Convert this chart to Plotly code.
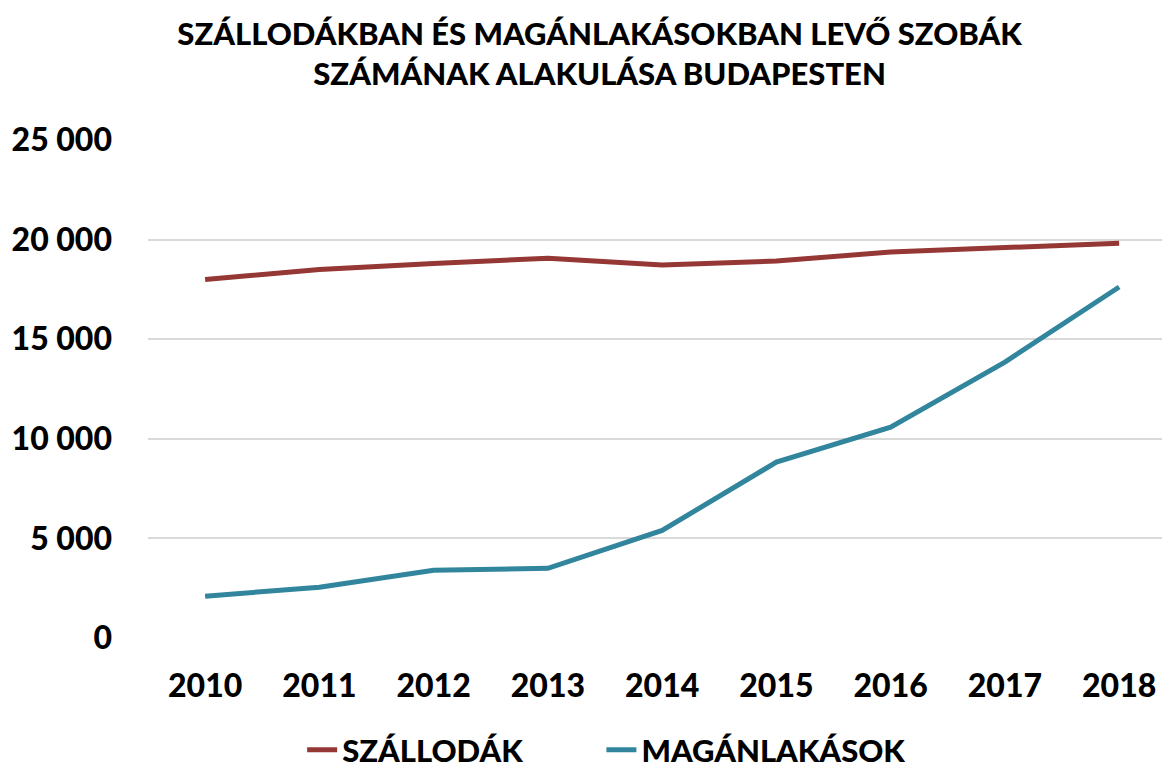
import plotly.graph_objects as go

years = ["2010", "2011", "2012", "2013", "2014", "2015", "2016", "2017", "2018"]
szallodak = [18000, 18500, 18800, 19070, 18730, 18920, 19380, 19580, 19820]
maganlakasok = [2100, 2550, 3400, 3500, 5400, 8830, 10580, 13850, 17620]
y_ticks = [0, 5000, 10000, 15000, 20000, 25000]
y_labels = ["0", "5 000", "10 000", "15 000", "20 000", "25 000"]

FONT = "Lato"
PAD = "&nbsp;" * 10  # extra gap between the two legend entries

fig = go.Figure()
fig.add_trace(go.Scatter(
    x=years, y=szallodak, mode="lines", name="SZÁLLODÁK" + PAD,
    line=dict(color="#953735", width=5),
))
fig.add_trace(go.Scatter(
    x=years, y=maganlakasok, mode="lines", name="MAGÁNLAKÁSOK",
    line=dict(color="#31859C", width=5),
))

fig.update_layout(
    width=1162, height=769,
    paper_bgcolor="white", plot_bgcolor="white",
    margin=dict(l=148, r=0, t=140, b=131, autoexpand=False),
    font=dict(family=FONT, color="black", weight=900),
    title=dict(
        text="SZÁLLODÁKBAN ÉS MAGÁNLAKÁSOKBAN LEVŐ SZOBÁK<br>SZÁMÁNAK ALAKULÁSA BUDAPESTEN",
        x=0.516, xanchor="center", y=0.9415, yanchor="top",
        font=dict(size=31, family=FONT, weight=900),
    ),
    xaxis=dict(
        type="category", range=[-0.5, 8.375],
        showgrid=False, showline=False, ticks="",
        tickfont=dict(size=32, family=FONT, weight=900), ticklabelstandoff=26,
    ),
    yaxis=dict(
        range=[0, 25000], tickvals=y_ticks, ticktext=y_labels,
        showgrid=True, gridcolor="#D9D9D9", gridwidth=2,
        zeroline=False, showline=False, ticks="",
        tickfont=dict(size=32, family=FONT, weight=900), ticklabelstandoff=35,
    ),
    legend=dict(
        orientation="h", x=0.152, xanchor="left", y=-0.225, yanchor="middle",
        font=dict(size=31, family=FONT, weight=900),
    ),
)

fig.write_html("out.html", config={"displayModeBar": False},
               post_script="document.body.style.margin='0';")
